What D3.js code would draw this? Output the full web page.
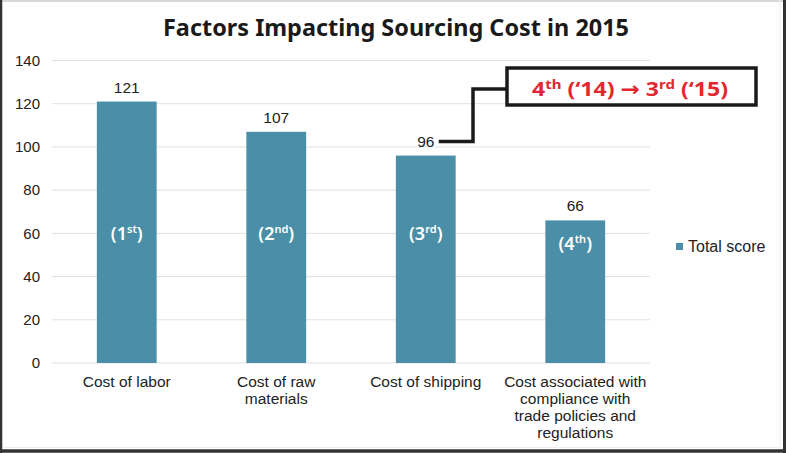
<!DOCTYPE html>
<html><head><meta charset="utf-8">
<script src="https://cdn.jsdelivr.net/npm/d3@7"></script>
<style>html,body{margin:0;padding:0;background:#fff;}svg{display:block;}</style>
</head><body>
<script>
const categories = ["Cost of labor", "Cost of raw materials", "Cost of shipping", "Cost associated with compliance with trade policies and regulations"];
const categoryLines = [["Cost of labor"], ["Cost of raw", "materials"], ["Cost of shipping"], ["Cost associated with", "compliance with", "trade policies and", "regulations"]];
const totalScore = [121, 107, 96, 66];
const rankNum = ["1", "2", "3", "4"];
const rankSup = ["st", "nd", "rd", "th"];
const yTicks = [0, 20, 40, 60, 80, 100, 120, 140];
const seriesName = "Total score";
const title = "Factors Impacting Sourcing Cost in 2015";

const W = 786, H = 453;
const barColor = "#4A8FA7";
const sans = "Liberation Sans, Arial, sans-serif";
const svg = d3.select("body").append("svg").attr("width", W).attr("height", H);
svg.append("rect").attr("width", W).attr("height", H).attr("fill", "#fff");

const x = d3.scaleBand().domain(categories).range([52, 650]).paddingInner(0.6).paddingOuter(0.3);
const y = d3.scaleLinear().domain([0, 140]).range([363, 60.5]);

// gridlines
svg.append("g").selectAll("line").data(yTicks).join("line")
  .attr("x1", 52).attr("x2", 650)
  .attr("y1", d => y(d)).attr("y2", d => y(d))
  .attr("stroke", "#e0e0e0").attr("stroke-width", 1);

// y axis labels
const yAxis = d3.axisLeft(y).tickValues(yTicks).tickSize(0).tickPadding(0);
const yg = svg.append("g").attr("transform", "translate(40,0)").call(yAxis);
yg.select(".domain").remove();
yg.selectAll("text").attr("font-family", sans).attr("font-size", 15).attr("fill", "#222");

// bars
svg.append("g").selectAll("rect").data(totalScore).join("rect")
  .attr("x", (d, i) => x(categories[i]))
  .attr("width", x.bandwidth())
  .attr("y", d => y(d))
  .attr("height", d => y(0) - y(d))
  .attr("fill", barColor);

// value labels
svg.append("g").selectAll("text").data(totalScore).join("text")
  .attr("x", (d, i) => x(categories[i]) + x.bandwidth() / 2)
  .attr("y", d => y(d) - 9)
  .attr("text-anchor", "middle")
  .attr("font-family", sans).attr("font-size", 15.5).attr("fill", "#222")
  .text(d => d);

// rank labels
const rg = svg.append("g");
totalScore.forEach((v, i) => {
  const cy = Math.max(y(60), y(v) + 23);
  const t = rg.append("text")
    .attr("x", x(categories[i]) + x.bandwidth() / 2)
    .attr("y", cy + 7)
    .attr("text-anchor", "middle")
    .attr("font-family", "Noto Sans, Open Sans, sans-serif").attr("font-size", 18).attr("font-weight", "600")
    .attr("fill", "#fff");
  t.append("tspan").text("(" + rankNum[i]);
  t.append("tspan").attr("font-size", 11).attr("dy", -7).text(rankSup[i]);
  t.append("tspan").attr("dy", 7).text(")");
});

// x axis labels
const xg = svg.append("g");
categories.forEach((c, i) => {
  const t = xg.append("text")
    .attr("x", x(c) + x.bandwidth() / 2)
    .attr("y", 387)
    .attr("text-anchor", "middle")
    .attr("font-family", sans).attr("font-size", 15.5).attr("fill", "#222");
  categoryLines[i].forEach((l, j) => {
    t.append("tspan").attr("x", x(c) + x.bandwidth() / 2).attr("dy", j === 0 ? 0 : 17).text(l);
  });
});

// title
svg.append("text").attr("x", 396).attr("y", 36).attr("text-anchor", "middle")
  .attr("font-family", "Noto Sans, Open Sans, sans-serif").attr("font-size", 23).attr("font-weight", "700")
  .attr("fill", "#1a1a1a").attr("textLength", 466).attr("lengthAdjust", "spacingAndGlyphs")
  .text(title);

// legend
svg.append("rect").attr("x", 676).attr("y", 243).attr("width", 7).attr("height", 7).attr("fill", barColor);
svg.append("text").attr("x", 688).attr("y", 252)
  .attr("font-family", sans).attr("font-size", 16).attr("fill", "#222")
  .text(seriesName);

// annotation
const i3 = 2;
const ax0 = x(categories[i3]) + x.bandwidth() / 2 + 13;
const ay0 = y(totalScore[i3]) - 14;
svg.append("path")
  .attr("d", `M${ax0},${ay0} H473 V89 H507`)
  .attr("fill", "none").attr("stroke", "#1a1a1a").attr("stroke-width", 3.5);
svg.append("rect").attr("x", 507).attr("y", 68).attr("width", 249).attr("height", 37)
  .attr("fill", "#fff").attr("stroke", "#1a1a1a").attr("stroke-width", 3.5);
const at = svg.append("text").attr("x", 630).attr("y", 96).attr("text-anchor", "middle")
  .attr("font-family", "Noto Sans, Open Sans, sans-serif").attr("font-size", 20).attr("font-weight", "700")
  .attr("fill", "#E3262F").attr("textLength", 196).attr("lengthAdjust", "spacingAndGlyphs");
at.append("tspan").text("4");
at.append("tspan").attr("font-size", 13).attr("dy", -7).text("th");
at.append("tspan").attr("dy", 7).text(" (\u201814) ");
at.append("tspan").attr("font-family", "DejaVu Sans").attr("font-size", 20).text("\u2192");
at.append("tspan").text(" 3");
at.append("tspan").attr("font-size", 13).attr("dy", -7).text("rd");
at.append("tspan").attr("dy", 7).text(" (\u201815)");

// frame
svg.append("line").attr("x1", 0).attr("x2", W).attr("y1", 1).attr("y2", 1).attr("stroke", "#d8d8d8").attr("stroke-width", 2);
svg.append("line").attr("x1", 1).attr("x2", 1).attr("y1", 0).attr("y2", H).attr("stroke", "#333").attr("stroke-width", 2.5);
svg.append("line").attr("x1", 784.5).attr("x2", 784.5).attr("y1", 0).attr("y2", H).attr("stroke", "#333").attr("stroke-width", 3);
svg.append("line").attr("x1", 0).attr("x2", W).attr("y1", 451).attr("y2", 451).attr("stroke", "#333").attr("stroke-width", 3.5);
svg.append("line").attr("x1", 780).attr("x2", 780).attr("y1", 0).attr("y2", 448).attr("stroke", "#eee").attr("stroke-width", 1);
svg.append("line").attr("x1", 3).attr("x2", 780).attr("y1", 447.5).attr("y2", 447.5).attr("stroke", "#eee").attr("stroke-width", 1);
</script>
</body></html>
